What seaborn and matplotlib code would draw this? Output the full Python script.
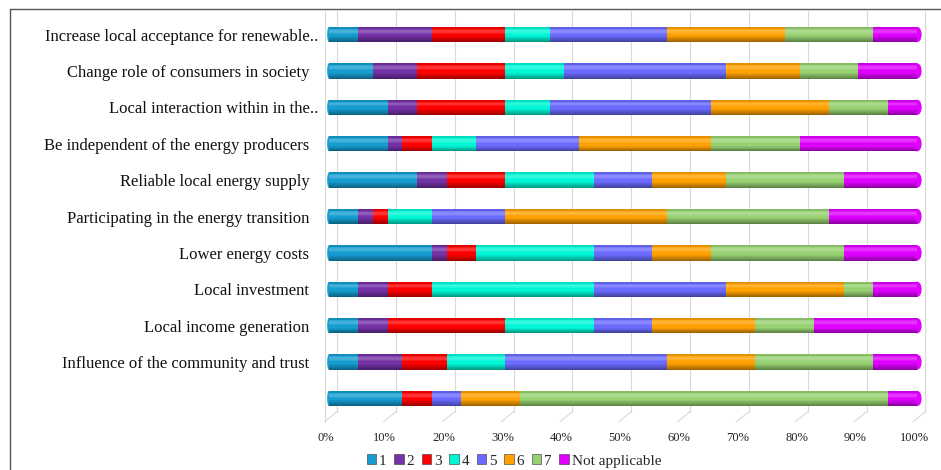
import numpy as np
import pandas as pd
import matplotlib
matplotlib.use("Agg")
import matplotlib.pyplot as plt
import matplotlib.transforms as mtransforms
from matplotlib.lines import Line2D
from matplotlib.patches import Patch, Ellipse
import seaborn as sns

# Motives, top to bottom
motives = [
    "Increase local acceptance for renewable..",
    "Change role of consumers in society",
    "Local interaction within in the..",
    "Be independent of the energy producers",
    "Reliable local energy supply",
    "Participating in the energy transition",
    "Lower energy costs",
    "Local investment",
    "Local income generation",
    "Influence of the community and trust",
    " ",
]
levels = ["1", "2", "3", "4", "5", "6", "7", "Not applicable"]

# Share of answers per level (%)
share_1 = [5, 7.5, 10, 10, 15, 5, 17.5, 5, 5, 5, 12.5]
share_2 = [12.5, 7.5, 5, 2.5, 5, 2.5, 2.5, 5, 5, 7.5, 0]
share_3 = [12.5, 15, 15, 5, 10, 2.5, 5, 7.5, 20, 7.5, 5]
share_4 = [7.5, 10, 7.5, 7.5, 15, 7.5, 20, 27.5, 15, 10, 0]
share_5 = [20, 27.5, 27.5, 17.5, 10, 12.5, 10, 22.5, 10, 27.5, 5]
share_6 = [20, 12.5, 20, 22.5, 12.5, 27.5, 10, 20, 17.5, 15, 10]
share_7 = [15, 10, 10, 15, 20, 27.5, 22.5, 5, 10, 20, 62.5]
share_na = [7.5, 10, 5, 20, 12.5, 15, 12.5, 7.5, 17.5, 7.5, 5]

tick_values = [0, 10, 20, 30, 40, 50, 60, 70, 80, 90, 100]

palette = {
    "1": "#159dd0",
    "2": "#7332a6",
    "3": "#ff0000",
    "4": "#00f7d6",
    "5": "#6b6bff",
    "6": "#ffa100",
    "7": "#97d172",
    "Not applicable": "#e000ff",
}

shares = pd.DataFrame(
    dict(zip(levels, [share_1, share_2, share_3, share_4, share_5,
                      share_6, share_7, share_na])),
    index=motives,
)
ends = shares.cumsum(axis=1)
totals = ends[levels[-1]].values

sns.set_theme(style="white")
plt.rcParams["font.family"] = ["Liberation Serif", "DejaVu Serif"]

fig = plt.figure(figsize=(9.41, 4.70), dpi=100)
ax = fig.add_axes([0.34644, 0.1026, 0.97471 - 0.34644, 0.9768 - 0.1026])

BAR_H = 0.42

# stacked bars: draw cumulative ends from the outermost level inwards
for lvl in reversed(levels):
    part = pd.DataFrame({"motive": motives, "end": ends[lvl].values})
    sns.barplot(data=part, x="end", y="motive", order=motives, orient="y",
                color=palette[lvl], saturation=1, width=BAR_H, linewidth=0,
                errorbar=None, ax=ax, zorder=3)

# rounded end caps
for i, tot in enumerate(totals):
    ax.add_patch(Ellipse((tot, i), width=1.5, height=BAR_H,
                         facecolor=palette[levels[-1]], edgecolor="none",
                         zorder=3, clip_on=False))
    ax.add_patch(Ellipse((0, i), width=0.6, height=BAR_H,
                         facecolor=palette[levels[0]], edgecolor="none",
                         zorder=3, clip_on=False))

# cylinder shading across each bar
n = 16
edges = np.linspace(-BAR_H / 2, BAR_H / 2, n + 1)
rows = np.arange(len(motives))
for k in range(n):
    t = (k + 0.5) / n
    if t < 0.1:
        c, a = "black", 0.10
    elif t < 0.45:
        c, a = "white", 0.22 * np.sin(np.pi * (t - 0.1) / 0.35)
    elif t < 0.6:
        continue
    else:
        c, a = "black", 0.40 * (t - 0.6) / 0.4
    ax.barh(rows + (edges[k] + edges[k + 1]) / 2, totals,
            height=BAR_H / n, left=0, color=c, alpha=a, linewidth=0,
            zorder=4)

# back-wall grid and floor lines
grid_c = "#d9d9d9"
for v in tick_values:
    ax.plot([v + 1.4, v + 1.4], [-0.65, 10.36], color=grid_c, lw=0.8,
            zorder=1, clip_on=False)
    ax.plot([v + 1.4, v - 0.73], [10.36, 10.64], color=grid_c, lw=0.8,
            zorder=1, clip_on=False)
ax.plot([-0.73, -0.73], [-0.65, 10.64], color=grid_c, lw=0.8, zorder=1,
        clip_on=False)

ax.set_xlim(0, 100)
ax.set_ylim(10.64, -0.65)
ax.set_xlabel("")
ax.set_ylabel("")
ax.grid(False)
sns.despine(ax=ax, left=True, bottom=True)

ax.set_xticks([v - 0.5 for v in tick_values])
ax.set_xticklabels([f"{v}%" for v in tick_values])
ax.tick_params(axis="x", length=0, pad=7, labelsize=9, colors="#222222")

ax.set_yticks(rows)
ax.set_yticklabels(motives)
ax.tick_params(axis="y", length=0, pad=12, labelsize=12, colors="#111111")
shift = mtransforms.ScaledTranslation(9 / 100, 0, fig.dpi_scale_trans)
for lab in ax.get_yticklabels():
    if lab.get_text().endswith(".."):
        lab.set_transform(lab.get_transform() + shift)

# outer frame
frame_c = "#555555"
fig.add_artist(Line2D([10 / 941, 1], [1 - 9 / 470] * 2,
                      transform=fig.transFigure, color=frame_c, lw=1.0))
fig.add_artist(Line2D([10 / 941] * 2, [0, 1 - 9 / 470],
                      transform=fig.transFigure, color=frame_c, lw=1.0))

handles = [Patch(facecolor=palette[l], edgecolor="#333333", linewidth=0.4,
                 label=l) for l in levels]
fig.legend(handles=handles, loc="center", bbox_to_anchor=(514 / 941, 1 - 461 / 470),
           ncol=len(levels), frameon=False, fontsize=11, handlelength=0.6,
           handleheight=0.6, handletextpad=0.2, columnspacing=0.5,
           borderpad=0, borderaxespad=0)

fig.savefig("out.png", dpi=100)
